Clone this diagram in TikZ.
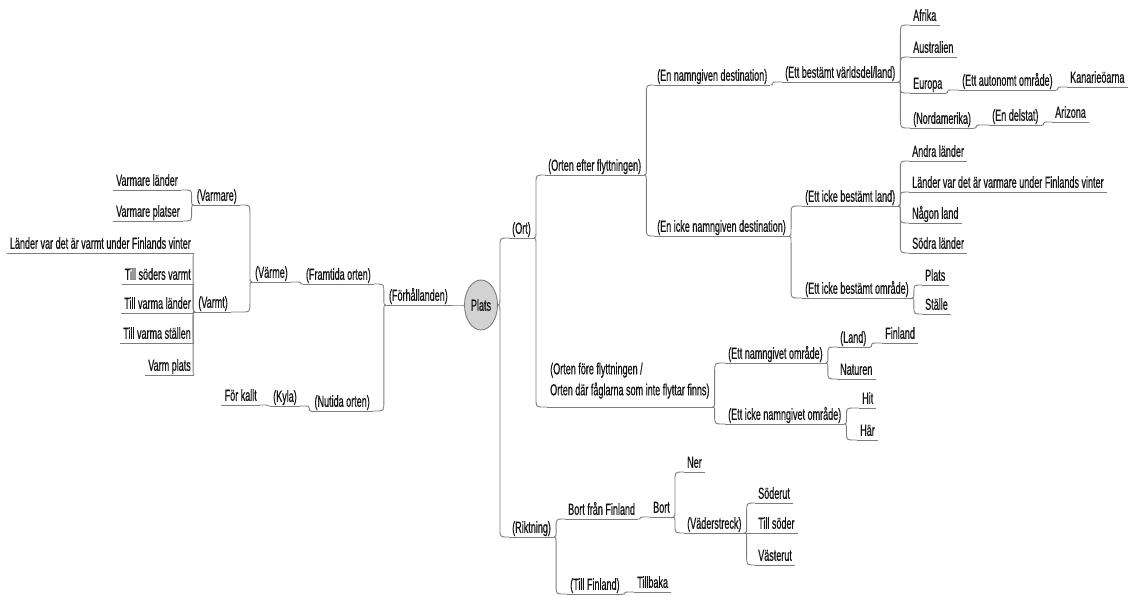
\documentclass[tikz,border=0pt]{standalone}
\usepackage{fontspec}
\setmainfont{Liberation Sans}[FakeStretch=0.565,FakeBold=0.6]
\usetikzlibrary{shapes.geometric,calc}
\definecolor{lg}{RGB}{125,125,125}
\definecolor{tx}{RGB}{20,20,20}
\definecolor{rootfill}{RGB}{210,210,210}
\begin{document}
\begin{tikzpicture}[x=1pt,y=-1pt,
  mn/.style={inner xsep=3pt,inner ysep=0pt,text height=11pt,text depth=4pt,
    text=tx,font=\fontsize{16}{20}\selectfont},
  R/.style={mn,anchor=south west},
  L/.style={mn,anchor=south east},
  ul/.style={draw=lg,line width=0.9pt},
  connR/.style={ul,to path={let \p1=(\tikztostart), \p2=(\tikztotarget),
    \n1={max(min((\y2-\y1)/2,9),-9)}, \n2={min(\x2-\x1-2,8)} in
    (\p1) .. controls ({\x1+2pt},\y1) .. ({\x1+2pt},{\y1+(\n1)})
    -- ({\x1+2pt},{\y2-(\n1)}) .. controls ({\x1+2pt},\y2) .. ({\x1+2pt+(\n2)},\y2) -- (\p2)}},
  connL/.style={ul,to path={let \p1=(\tikztostart), \p2=(\tikztotarget),
    \n1={max(min((\y2-\y1)/2,9),-9)}, \n2={max(\x2-\x1+2,-8)} in
    (\p1) .. controls ({\x1-2pt},\y1) .. ({\x1-2pt},{\y1+(\n1)})
    -- ({\x1-2pt},{\y2-(\n1)}) .. controls ({\x1-2pt},\y2) .. ({\x1-2pt+(\n2)},\y2) -- (\p2)}}
]
\useasboundingbox (0,0) rectangle (1131,595);

% root
\node[ellipse,draw=lg,fill=rootfill,line width=0.9pt,minimum width=33pt,minimum height=50pt,inner sep=0pt,
  text=tx,font=\fontsize{16}{20}\selectfont] (plats) at (481,305) {Plats};

% right side
\node[R] (ort) at (509,238) {(Ort)};
\node[R] (oe) at (545,175) {(Orten efter flyttningen)};
\node[R,align=left,text depth=11.5pt,font=\fontsize{16}{21}\selectfont] (of) at (547,407)
  {(Orten före flyttningen /\\Orten där fåglarna som inte flyttar finns)};
\node[R] (end) at (654,85) {(En namngiven destination)};
\node[R] (eid) at (654,236) {(En icke namngiven destination)};
\node[R] (ebv) at (782,82) {(Ett bestämt världsdel/land)};
\node[R] (afr) at (910,25) {Afrika};
\node[R] (aus) at (910,57) {Australien};
\node[R] (eur) at (910,93) {Europa};
\node[R] (eao) at (959,90) {(Ett autonomt område)};
\node[R] (kan) at (1067,87) {Kanarieöarna};
\node[R] (nam) at (910,128) {(Nordamerika)};
\node[R] (eds) at (989,125) {(En delstat)};
\node[R] (ari) at (1052,122) {Arizona};
\node[R] (eibl) at (802,206) {(Ett icke bestämt land)};
\node[R] (eibo) at (802,298) {(Ett icke bestämt område)};
\node[R] (andr) at (909,161) {Andra länder};
\node[R] (lvv) at (909,192) {Länder var det är varmare under Finlands vinter};
\node[R] (nag) at (909,223) {Någon land};
\node[R] (sod) at (909,253) {Södra länder};
\node[R] (pla) at (922,285) {Plats};
\node[R] (sta) at (922,314) {Ställe};
\node[R] (eno) at (725,363) {(Ett namngivet område)};
\node[R] (eino) at (725,424) {(Ett icke namngivet område)};
\node[R] (lan) at (837,347) {(Land)};
\node[R] (fin) at (882,343) {Finland};
\node[R] (nat) at (837,379) {Naturen};
\node[R] (hit) at (859,408) {Hit};
\node[R] (har) at (857,440) {Här};
\node[R] (rik) at (509,537) {(Riktning)};
\node[R] (bff) at (565,519) {Bort från Finland};
\node[R] (bort) at (650,517) {Bort};
\node[R] (ner) at (684,472) {Ner};
\node[R] (vad) at (684,533) {(Väderstreck)};
\node[R] (sodr) at (755,503) {Söderut};
\node[R] (tsod) at (755,533) {Till söder};
\node[R] (vast) at (755,565) {Västerut};
\node[R] (tfi) at (567,594) {(Till Finland)};
\node[R] (tbk) at (634,592) {Tillbaka};

% left side
\node[L] (forh) at (451,305) {(Förhållanden)};
\node[L] (fram) at (374,284) {(Framtida orten)};
\node[L] (nut) at (373,411) {(Nutida orten)};
\node[L] (varme) at (291,282) {(Värme)};
\node[L] (kyla) at (300,406) {(Kyla)};
\node[L] (fk) at (260,405) {För kallt};
\node[L] (varmare) at (240,205) {(Varmare)};
\node[L] (varmt) at (231,312) {(Varmt)};
\node[L] (vl) at (181,190) {Varmare länder};
\node[L] (vp) at (183,221) {Varmare platser};
\node[L] (lvt) at (194,253) {Länder var det är varmt under Finlands vinter};
\node[L] (tsv) at (194,284) {Till söders varmt};
\node[L] (tvl) at (194,313) {Till varma länder};
\node[L] (tvs) at (194,343) {Till varma ställen};
\node[L] (vpl) at (194,375) {Varm plats};

% underlines
\foreach \n in {ort,oe,of,end,eid,ebv,afr,aus,eur,eao,kan,nam,eds,ari,eibl,eibo,andr,lvv,nag,sod,pla,sta,
  eno,eino,lan,fin,nat,hit,har,rik,bff,bort,ner,vad,sodr,tsod,vast,tfi,tbk,
  forh,fram,nut,varme,kyla,fk,varmare,varmt,vl,vp,lvt,tsv,tvl,tvs,vpl}
  \draw[ul] (\n.south west) -- (\n.south east);

% right connectors
\foreach \a/\b in {plats.east/ort,plats.east/rik,ort.south east/oe,ort.south east/of,
  oe.south east/end,oe.south east/eid,end.south east/ebv,
  ebv.south east/afr,ebv.south east/aus,ebv.south east/eur,ebv.south east/nam,
  eur.south east/eao,eao.south east/kan,nam.south east/eds,eds.south east/ari,
  eid.south east/eibl,eid.south east/eibo,
  eibl.south east/andr,eibl.south east/lvv,eibl.south east/nag,eibl.south east/sod,
  eibo.south east/pla,eibo.south east/sta,
  of.south east/eno,of.south east/eino,eno.south east/lan,eno.south east/nat,lan.south east/fin,
  eino.south east/hit,eino.south east/har,
  rik.south east/bff,rik.south east/tfi,bff.south east/bort,bort.south east/ner,bort.south east/vad,
  vad.south east/sodr,vad.south east/tsod,vad.south east/vast,tfi.south east/tbk}
  \draw[connR] (\a) to (\b.south west);

% left connectors
\foreach \a/\b in {plats.west/forh,forh.south west/fram,forh.south west/nut,
  fram.south west/varme,varme.south west/varmare,varme.south west/varmt,
  varmare.south west/vl,varmare.south west/vp,
  varmt.south west/lvt,varmt.south west/tsv,varmt.south west/tvl,varmt.south west/tvs,varmt.south west/vpl,
  nut.south west/kyla,kyla.south west/fk}
  \draw[connL] (\a) to (\b.south east);
\end{tikzpicture}
\end{document}
